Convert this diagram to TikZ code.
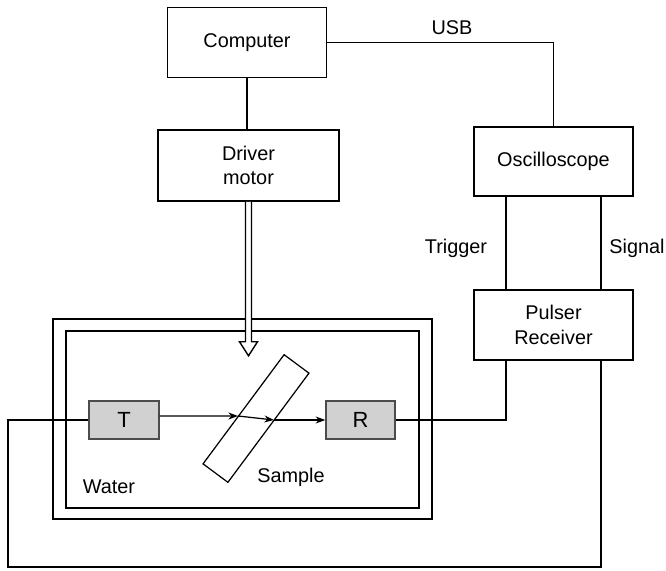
\documentclass[tikz,border=0pt]{standalone}
\usepackage{fontspec}
\setmainfont{Liberation Sans}
\usetikzlibrary{arrows.meta, calc}

\tikzset{
  unit/.style={draw, line width=0.9pt, minimum width=3.18cm, minimum height=1.4cm,
    align=center, font=\fontsize{11.3}{14}\selectfont},
  probe/.style={draw=black!70, fill=black!18, line width=0.8pt, minimum width=1.4cm,
    minimum height=0.76cm, font=\fontsize{12.5}{14}\selectfont},
  tag/.style={font=\fontsize{11.3}{14}\selectfont},
  wire/.style={line width=0.9pt},
  beam/.style={line width=0.7pt, -{Stealth[length=5.5pt,width=4pt]}},
}

\begin{document}
\begin{tikzpicture}[x=0.02cm, y=-0.02cm]
        \useasboundingbox (0,0) rectangle (666,571);

        % Draw the instruments
        \node[unit] (comp) at (247,42.5) {Computer};
        \node[unit, minimum width=3.62cm, minimum height=1.42cm] (drv) at (248.5,165.5) {Driver\\motor};
        \node[unit, minimum height=1.38cm] (osc) at (553.5,161.5) {Oscilloscope};
        \node[unit] (pr) at (553.5,325) {Pulser\\Receiver};

        % Draw the water tank
        \draw[wire] (53,319) rectangle (432,519);
        \draw[wire] (66,331) rectangle (419,508);
        \node[tag] (water) at (109,487) {Water};

        % Draw the transducers and the sample
        \node[probe] (T) at (124,420) {T};
        \node[probe, minimum width=1.38cm] (R) at (360.5,420) {R};
        \node[draw, line width=0.7pt, minimum width=2.72cm, minimum height=0.62cm,
          inner sep=0pt, rotate=53.4] (sample) at (256,418.5) {};
        \node[tag] (samplelabel) at (291,477) {Sample};

        % Draw the beam through the sample
        \coordinate (hit1) at (238,416);
        \coordinate (hit2) at (274,420);
        \draw[beam] ([yshift=0.08cm]T.east) -- (hit1);
        \draw[beam] (hit1) -- (hit2);
        \draw[beam] (hit2) -- (R.west);

        % Draw the cables
        \draw[wire] (comp.south) -- (comp.south |- drv.north);
        \draw[wire] (comp.east) -| (osc.north);
        \node[tag] (usb) at (452,28) {USB};
        \draw[wire] ([xshift=0.66cm]osc.south west) -- ([xshift=0.66cm]pr.north west);
        \draw[wire] ([xshift=-0.66cm]osc.south east) -- ([xshift=-0.66cm]pr.north east);
        \node[tag] (trigger) at (456,248) {Trigger};
        \node[tag] (signal) at (637,248) {Signal};
        \draw[wire] (R.east) -| ([xshift=0.66cm]pr.south west);
        \coordinate (corner) at (8,567);
        \draw[wire] ([xshift=-0.66cm]pr.south east) |- (corner) |- (T.west);

        % Draw the motor drive arrow
        \draw[line width=0.8pt, fill=white] ([xshift=-0.06cm]drv.south) -- ++(0,140) -- ++(-6,0)
          -- ++(9,14) -- ++(9,-14) -- ++(-6,0) -- ++(0,-140);

    \end{tikzpicture}
\end{document}
